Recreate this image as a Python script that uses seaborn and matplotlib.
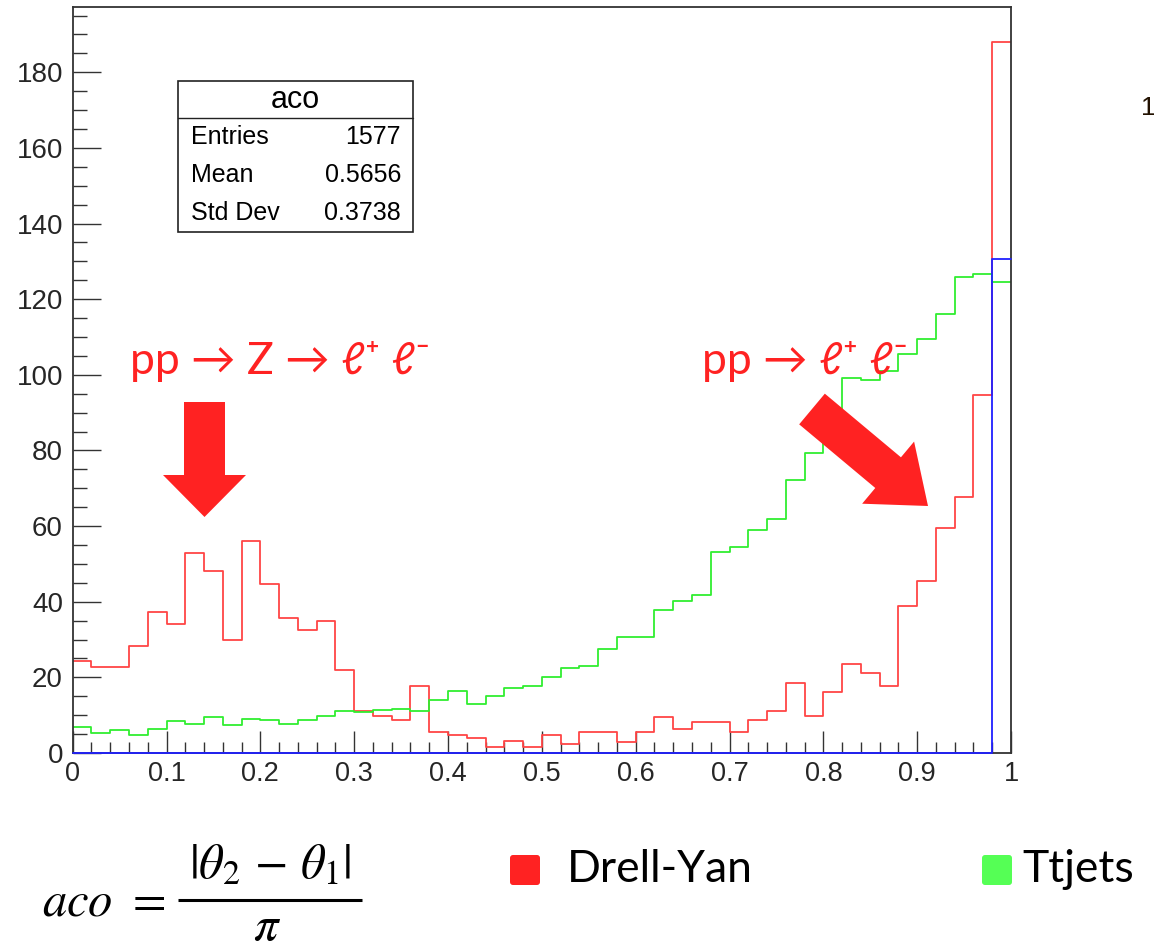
import numpy as np
import pandas as pd
import matplotlib
matplotlib.use("Agg")
import matplotlib.pyplot as plt
import matplotlib.patches as mpatches
from matplotlib.ticker import MultipleLocator, FixedLocator
import seaborn as sns

# ---- histogram contents: 50 bins of width 0.02 on [0, 1] ----
n_bins = 50
x_range = (0.0, 1.0)

drell_yan = [24.3, 22.7, 22.7, 28.4, 37.4, 34.0, 53.0, 48.1, 30.0, 56.1,
             44.6, 35.8, 32.5, 35.0, 21.9, 11.2, 9.8, 8.7, 17.7, 5.6,
             4.8, 4.0, 1.5, 3.1, 1.5, 4.8, 2.4, 5.6, 5.6, 3.0,
             5.6, 9.6, 6.3, 8.1, 8.1, 5.6, 8.7, 11.2, 18.6, 9.8,
             16.1, 23.5, 21.1, 17.8, 38.9, 45.5, 59.4, 67.6, 94.6, 188.0]

ttjets = [6.8, 5.3, 6.1, 4.8, 6.3, 8.5, 7.7, 9.5, 7.3, 8.9,
          8.6, 7.8, 8.7, 9.8, 11.0, 10.8, 11.4, 11.7, 11.0, 13.9,
          16.3, 13.0, 15.2, 17.1, 17.8, 20.0, 22.4, 22.9, 27.5, 30.7,
          30.7, 37.8, 40.2, 41.8, 53.2, 54.5, 58.9, 61.9, 72.2, 79.2,
          86.0, 99.2, 98.6, 101.1, 105.5, 109.5, 116.2, 125.9, 126.6, 124.6]

third = [0.0] * 49 + [130.5]

x_ticks = [0, 0.1, 0.2, 0.3, 0.4, 0.5, 0.6, 0.7, 0.8, 0.9, 1]
x_tick_labels = ["0", "0.1", "0.2", "0.3", "0.4", "0.5", "0.6", "0.7", "0.8", "0.9", "1"]
y_ticks = [0, 20, 40, 60, 80, 100, 120, 140, 160, 180]

stat_title = "aco"
stat_rows = [("Entries", "1577"), ("Mean", "0.5656"), ("Std Dev", "0.3738")]

legend_labels = ["Drell-Yan", "Ttjets"]

RED = "#ff4545"
GREEN = "#30ee30"
BLUE = "#2020ff"
ANNOT_RED = "#ff2222"

sns.set_style("white")
plt.rcParams["font.family"] = ["Liberation Sans", "DejaVu Sans"]

W, H = 1154, 951
fig = plt.figure(figsize=(W / 100, H / 100), dpi=100)
fig.patch.set_facecolor("white")

left, right, top, bottom = 72.7, 1011.0, 6.5, 753.0
ax = fig.add_axes([left / W, 1 - bottom / H, (right - left) / W, (bottom - top) / H])

edges = np.linspace(x_range[0], x_range[1], n_bins + 1)
centers = 0.5 * (edges[:-1] + edges[1:])
df = pd.DataFrame({
    "aco": np.tile(centers, 3),
    "w": np.concatenate([drell_yan, ttjets, third]),
    "sample": ["dy"] * n_bins + ["tt"] * n_bins + ["other"] * n_bins,
})

for key, col, z in [("dy", RED, 2.0), ("tt", GREEN, 2.1), ("other", BLUE, 3.0)]:
    sub = df[df["sample"] == key]
    sns.histplot(data=sub, x="aco", weights="w", bins=n_bins, binrange=x_range,
                 element="step", fill=False, color=col, linewidth=1.3,
                 ax=ax, zorder=z)

# the empty third sample lies on the lower frame edge; keep it fully visible
ax.lines[-1].set_clip_on(False)

ax.set_xlim(0, 1)
ax.set_ylim(0, 1.05 * max(drell_yan))
ax.set_xlabel("")
ax.set_ylabel("")

ax.xaxis.set_major_locator(FixedLocator(x_ticks))
ax.set_xticklabels(x_tick_labels)
ax.xaxis.set_minor_locator(MultipleLocator(0.02))
ax.yaxis.set_major_locator(FixedLocator(y_ticks))
ax.yaxis.set_minor_locator(MultipleLocator(5))

ax.tick_params(axis="x", which="major", direction="in", length=16, width=1.0,
               color="#333333", labelsize=19.5, pad=6, top=False, bottom=True)
ax.tick_params(axis="x", which="minor", direction="in", length=8, width=1.0,
               color="#333333", top=False, bottom=True)
ax.tick_params(axis="y", which="major", direction="in", length=20, width=1.0,
               color="#333333", labelsize=20, pad=7, right=False, left=True)
ax.tick_params(axis="y", which="minor", direction="in", length=10, width=1.0,
               color="#333333", right=False, left=True)
for s in ax.spines.values():
    s.set_visible(True)
    s.set_color("#333333")
    s.set_linewidth(1.3)

# ---- overlay in pixel coordinates for annotations ----
ov = fig.add_axes([0, 0, 1, 1], zorder=10)
ov.set_xlim(0, W)
ov.set_ylim(H, 0)
ov.axis("off")
ov.patch.set_alpha(0)

# statistics box
ov.add_patch(mpatches.Rectangle((178, 81), 235, 151, facecolor="white",
                                edgecolor="#222222", lw=1.2))
ov.plot([178, 413], [118, 118], color="#222222", lw=1.0)
ov.text(295.5, 100, stat_title, ha="center", va="center", fontsize=22, color="black")
for i, (lab, val) in enumerate(stat_rows):
    yy = 137 + i * 38
    ov.text(191, yy, lab, ha="left", va="center", fontsize=18, color="black")
    ov.text(401, yy, val, ha="right", va="center", fontsize=18, color="black")

# process annotations
lab_font = ["Lato", "DejaVu Sans"]
ov.text(130, 362, "pp \u2192 Z \u2192 \u2113\u207a \u2113\u207b", ha="left", va="center",
        fontsize=32, color=ANNOT_RED, family=lab_font)
ov.text(702, 362, "pp \u2192 \u2113\u207a \u2113\u207b", ha="left", va="center",
        fontsize=32, color=ANNOT_RED, family=lab_font)

ov.add_patch(mpatches.FancyArrow(204.5, 402, 0, 115, width=41, head_width=83,
                                 head_length=42, length_includes_head=True,
                                 color=ANNOT_RED, lw=0))
ov.add_patch(mpatches.FancyArrow(812, 409, 116, 97, width=40, head_width=81,
                                 head_length=52, length_includes_head=True,
                                 color=ANNOT_RED, lw=0))

# legend below the frame
ov.add_patch(mpatches.FancyBboxPatch((510, 855), 30, 30, boxstyle="round,pad=0,rounding_size=3",
                                     facecolor="#ff2222", edgecolor="none"))
ov.text(567, 870, legend_labels[0], ha="left", va="center", fontsize=32,
        color="black", family=lab_font)
ov.add_patch(mpatches.FancyBboxPatch((982, 855), 30, 30, boxstyle="round,pad=0,rounding_size=3",
                                     facecolor="#55ff55", edgecolor="none"))
ov.text(1022, 870, legend_labels[1], ha="left", va="center", fontsize=32,
        color="black", family=lab_font)

# definition of the variable: aco = |theta2 - theta1| / pi
ov.text(42, 916, r"$aco$", ha="left", va="baseline", fontsize=35,
        color="black", math_fontfamily="stix")
ov.text(145, 901, r"$=$", ha="center", va="center", fontsize=35,
        color="black", math_fontfamily="stix")
ov.text(270, 878, r"$|\theta_2\,-\,\theta_1|$", ha="center", va="baseline", fontsize=35,
        color="black", math_fontfamily="stix")
ov.plot([178, 362], [900, 900], color="black", lw=2.2, solid_capstyle="butt")
ov.text(267, 940, r"$\pi$", ha="center", va="baseline", fontsize=35,
        color="black", math_fontfamily="stix")

# partial tick label of a neighbouring panel
ov.text(1141, 108, "1", ha="left", va="center", fontsize=19, color="#221100")

fig.savefig("out.png", dpi=100, facecolor="white")
